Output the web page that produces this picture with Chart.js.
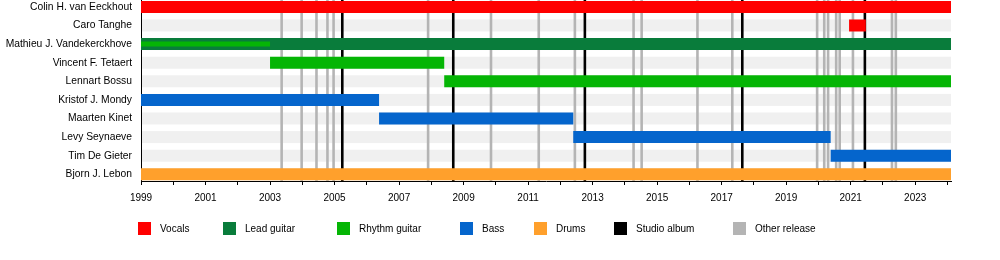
<!DOCTYPE html>
<html>
<head>
<meta charset="utf-8">
<script src="https://cdn.jsdelivr.net/npm/chart.js@4"></script>
<style>
  body { margin: 0; background: #fff; }
  canvas { display: block; }
</style>
</head>
<body>
<canvas id="mychart" width="1000" height="260"></canvas>
<script>
// band members, top to bottom
const members = [
  'Colin H. van Eeckhout',
  'Caro Tanghe',
  'Mathieu J. Vandekerckhove',
  'Vincent F. Tetaert',
  'Lennart Bossu',
  'Kristof J. Mondy',
  'Maarten Kinet',
  'Levy Seynaeve',
  'Tim De Gieter',
  'Bjorn J. Lebon'
]

const startYear = 1999
const endYear = 2024.11

// [member, from, to]
const vocals = [
  ['Colin H. van Eeckhout', 1999, endYear],
  ['Caro Tanghe', 2020.95, 2021.47]
]
const leadGuitar = [
  ['Mathieu J. Vandekerckhove', 1999, endYear]
]
const rhythmGuitar = [
  ['Vincent F. Tetaert', 2003.0, 2008.4],
  ['Lennart Bossu', 2008.4, endYear]
]
// second instrument, drawn as thin bar
const rhythmGuitarSecond = [
  ['Mathieu J. Vandekerckhove', 1999, 2003.0]
]
const bass = [
  ['Kristof J. Mondy', 1999, 2006.38],
  ['Maarten Kinet', 2006.38, 2012.4],
  ['Levy Seynaeve', 2012.4, 2020.38],
  ['Tim De Gieter', 2020.38, endYear]
]
const drums = [
  ['Bjorn J. Lebon', 1999, endYear]
]

const studioAlbums = [2005.24, 2008.68, 2012.76, 2017.64, 2021.44]
const otherReleases = [2003.36, 2003.98, 2004.44, 2004.78, 2004.97, 2007.9, 2009.85,
  2011.33, 2012.45, 2014.27, 2014.52, 2016.25, 2017.33, 2019.96, 2020.18, 2020.3,
  2020.55, 2020.66, 2021.07, 2022.28, 2022.4]

const yearTicks = []
for (let y = 1999; y <= 2024; y++) yearTicks.push(y)

const colors = {
  vocals: '#ff0000',
  lead: '#097c3b',
  rhythm: '#05b505',
  bass: '#0565cc',
  drums: '#ffa02c',
  studio: '#000000',
  other: '#b4b4b4'
}

const FONT = { family: '"Liberation Sans", Arial, sans-serif', size: 10 }

const toPoints = rows => rows.map(r => ({ y: members.indexOf(r[0]), x: [r[1], r[2]] }))

const makeSet = (label, rows, color, thick, order) => ({
  label,
  data: toPoints(rows),
  backgroundColor: color,
  borderWidth: 0,
  borderSkipped: false,
  grouped: false,
  maxBarThickness: thick,
  order
})

// row bands and release lines, under the bars
const backdrop = {
  id: 'backdrop',
  beforeDatasetsDraw(chart) {
    const { ctx, chartArea: a, scales } = chart
    ctx.save()
    ctx.fillStyle = '#f0f0f0'
    members.forEach((m, i) => {
      const y = scales.y.getPixelForValue(i)
      ctx.fillRect(a.left + 1, y - 6, a.right - a.left - 1, 12)
    })
    const line = (v, color) => {
      const x = scales.x.getPixelForValue(v)
      ctx.strokeStyle = color
      ctx.lineWidth = 2.6
      ctx.beginPath()
      ctx.moveTo(x, a.top)
      ctx.lineTo(x, a.bottom)
      ctx.stroke()
    }
    otherReleases.forEach(v => line(v, colors.other))
    studioAlbums.forEach(v => line(v, colors.studio))
    ctx.restore()
  }
}

const legendItems = [
  ['Vocals', colors.vocals],
  ['Lead guitar', colors.lead],
  ['Rhythm guitar', colors.rhythm],
  ['Bass', colors.bass],
  ['Drums', colors.drums],
  ['Studio album', colors.studio],
  ['Other release', colors.other]
]
const legendX = [138, 223, 337, 460, 534, 614, 733]

const legendBelow = {
  id: 'legendBelow',
  afterDraw(chart) {
    const ctx = chart.ctx
    ctx.save()
    ctx.font = FONT.size + 'px ' + FONT.family
    ctx.textBaseline = 'middle'
    legendItems.forEach((it, i) => {
      ctx.fillStyle = it[1]
      ctx.fillRect(legendX[i], 222, 13, 13)
      ctx.fillStyle = '#000'
      ctx.fillText(it[0], legendX[i] + 22, 229)
    })
    ctx.restore()
  }
}

const config = {
  type: 'bar',
  data: {
    datasets: [
      makeSet('Rhythm guitar', rhythmGuitarSecond, colors.rhythm, 5, -1),
      makeSet('Vocals', vocals, colors.vocals, 12, 0),
      makeSet('Lead guitar', leadGuitar, colors.lead, 12, 0),
      makeSet('Rhythm guitar', rhythmGuitar, colors.rhythm, 12, 0),
      makeSet('Bass', bass, colors.bass, 12, 0),
      makeSet('Drums', drums, colors.drums, 12, 0)
    ]
  },
  options: {
    indexAxis: 'y',
    responsive: false,
    animation: false,
    devicePixelRatio: 1,
    layout: { padding: { left: 0, right: 49, top: 0, bottom: 0 } },
    plugins: {
      legend: { display: false },
      tooltip: { enabled: false }
    },
    scales: {
      x: {
        type: 'linear',
        min: startYear,
        max: endYear,
        afterBuildTicks: scale => { scale.ticks = yearTicks.map(v => ({ value: v })) },
        afterFit: scale => { scale.height = 79 },
        grid: { display: true, drawOnChartArea: false, drawTicks: true, tickLength: 4, color: '#000' },
        border: { display: true, color: '#000', width: 1 },
        ticks: {
          autoSkip: false,
          maxRotation: 0,
          padding: 7,
          color: '#000',
          font: FONT,
          callback: v => (v % 2 === 1 ? String(v) : '')
        }
      },
      y: {
        type: 'linear',
        reverse: true,
        offset: false,
        min: -0.37,
        max: 9.36,
        afterBuildTicks: scale => { scale.ticks = members.map((m, i) => ({ value: i })) },
        afterFit: scale => {
          scale.width = 141
          scale.paddingTop = 0
          scale.paddingBottom = 0
        },
        grid: { display: false, drawTicks: false },
        border: { display: true, color: '#000', width: 1 },
        ticks: {
          autoSkip: false,
          padding: 9,
          color: '#000',
          font: { family: FONT.family, size: 10.3 },
          callback: v => members[v]
        }
      }
    }
  },
  plugins: [backdrop, legendBelow]
}

let chart1 = new Chart(document.querySelector('#mychart'), config)
</script>
</body>
</html>
